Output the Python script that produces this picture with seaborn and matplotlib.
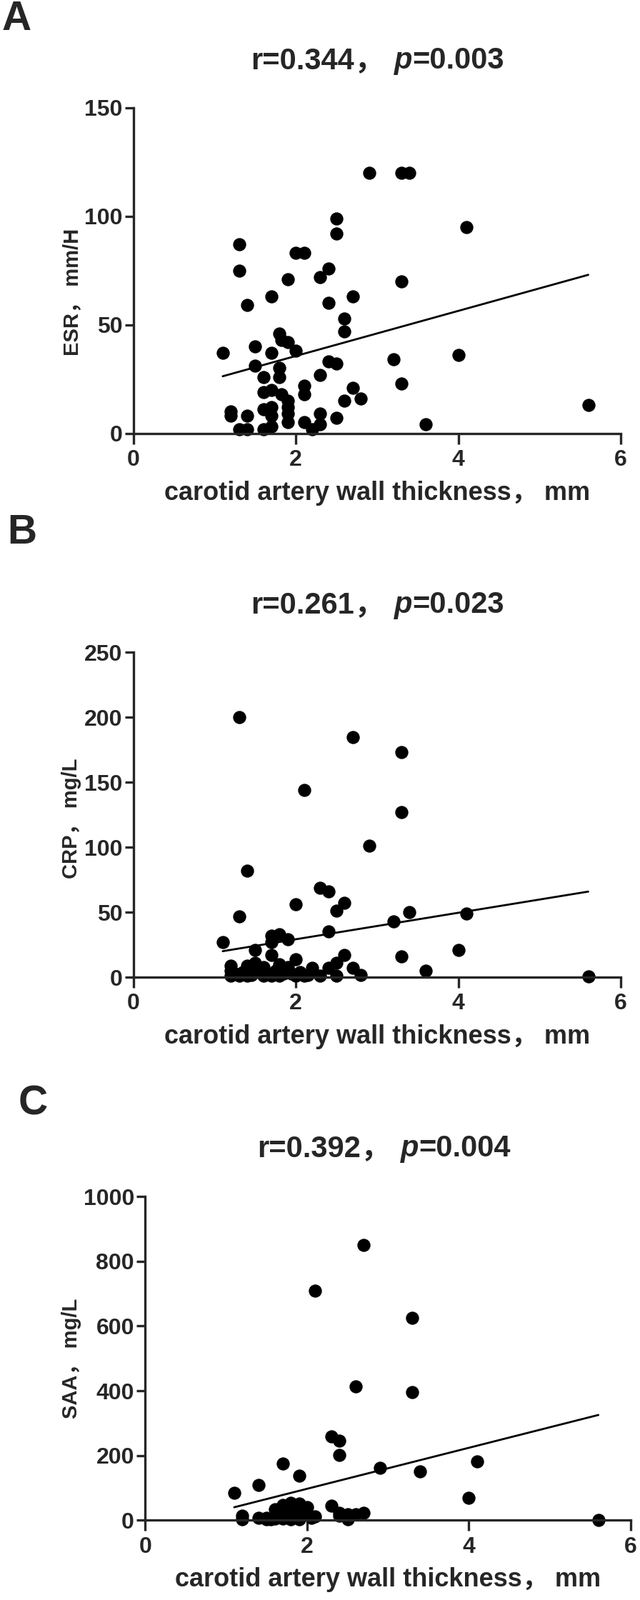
import numpy as np
import pandas as pd
import seaborn as sns
import matplotlib.pyplot as plt
from matplotlib.offsetbox import TextArea, HPacker, AnnotationBbox

# ---- data ----
# A: ESR vs carotid artery wall thickness
esr_x = [2.9, 2.5, 2.5, 1.3, 2.0, 2.1, 1.3, 2.4, 2.3, 1.9,
         1.7, 2.7, 1.4, 2.4, 2.6, 2.6, 1.8, 1.82, 1.9, 2.0,
         1.1, 1.5, 1.7, 2.4, 2.5, 1.5, 1.8, 1.6, 1.8, 2.3,
         2.1, 2.1, 1.6, 1.7, 1.82, 1.9, 2.7, 2.8, 2.6, 1.2,
         1.2, 1.4, 1.6, 1.7, 1.7, 1.9, 1.9, 1.9, 2.3, 2.3,
         2.5, 2.1, 2.2, 1.3, 1.4, 1.6, 1.7, 3.3, 3.4, 4.1,
         3.3, 3.2, 4.0, 3.3, 3.6, 5.6]
esr_y = [120, 99, 92, 87, 83, 83, 75, 76, 72, 71,
         63, 63, 59, 60, 53, 47, 46, 43, 42, 38,
         37, 40, 37, 33, 32, 31, 30, 26, 26, 27,
         22, 18, 19, 20, 18, 15, 21, 16, 15, 10,
         8, 8, 11, 12, 8, 12, 9, 5, 9, 4,
         7, 5, 2, 2, 2, 2, 3, 120, 120, 95,
         70, 34, 36, 23, 4, 13]

# B: CRP
crp_x = [1.3, 2.7, 2.1, 2.9, 1.4, 2.3, 2.4, 2.0, 2.6, 2.5,
         1.3, 2.4, 1.1, 1.8, 1.9, 1.7, 1.7, 1.5, 1.7, 2.6,
         2.0, 1.2, 1.2, 1.4, 1.5, 1.6, 1.8, 1.9, 2.2, 2.4,
         2.5, 2.7, 2.8, 1.2, 1.3, 1.4, 1.6, 1.7, 1.8, 2.1,
         2.3, 2.5, 3.3, 3.3, 3.4, 3.2, 4.1, 3.3, 4.0, 3.6,
         5.6, 1.95, 2.0, 1.25, 1.35, 1.45, 1.55, 1.65, 1.75, 1.85,
         2.05, 2.15, 1.5]
crp_y = [200, 185, 144, 101, 82, 69, 66, 56, 57, 51,
         47, 35, 27, 33, 29, 32, 27, 21, 17, 17,
         14, 9, 5, 9, 11, 8, 10, 8, 7, 7,
         11, 7, 2, 1, 1, 1, 1, 1, 1, 1,
         1, 1, 173, 127, 50, 43, 49, 16, 21, 5,
         0.5, 3, 1, 3, 4, 2, 4, 3, 5, 3,
         4, 2, 6]

# C: SAA
saa_x = [1.1, 1.4, 1.7, 1.9, 2.3, 2.4, 2.4, 2.9, 3.4, 4.1,
         4.0, 5.6, 2.3, 1.2, 1.2, 1.4, 1.6, 1.7, 1.8, 1.9,
         2.0, 1.7, 1.8, 1.9, 1.6, 1.5, 2.1, 2.4, 2.5, 2.6,
         2.7, 2.4, 2.5, 2.7, 2.1, 2.6, 3.3, 3.3, 1.75, 1.85,
         1.8, 1.7, 1.5, 1.6, 1.65, 1.75, 1.85, 1.95, 2.05, 1.55]
saa_y = [85, 109, 175, 138, 260, 245, 201, 161, 151, 182,
         69, 1, 44, 15, 4, 7, 33, 47, 55, 51,
         40, 18, 11, 4, 11, 7, 11, 22, 4, 18,
         22, 15, 18, 850, 710, 413, 626, 396, 30, 25,
         3, 5, 3, 5, 20, 40, 45, 20, 8, 4]

r_text = ["r=0.344，", "r=0.261，", "r=0.392，"]
p_text = ["=0.003", "=0.023", "=0.004"]
ylabels = ["ESR， mm/H", "CRP， mg/L", "SAA， mg/L"]
xlabel = "carotid artery wall thickness， mm"
letters = ["A", "B", "C"]
yticks = [[0, 50, 100, 150], [0, 50, 100, 150, 200, 250],
          [0, 200, 400, 600, 800, 1000]]
xticks = [0, 2, 4, 6]

sns.set_style("ticks")
plt.rcParams["font.family"] = ["Liberation Sans", "Noto Sans CJK SC", "DejaVu Sans"]
plt.rcParams["font.weight"] = "bold"

fig = plt.figure(figsize=(8.96, 22.4), dpi=100)

# axes rectangles (fig fraction), left/bottom/width/height
rects = [[0.2084, 0.7292, 0.7615, 0.2035],
         [0.2084, 0.3892, 0.7615, 0.2031],
         [0.2269, 0.0498, 0.7586, 0.2024]]
title_pos = [(0.590, 0.9620), (0.590, 0.6218), (0.600, 0.2821)]
letter_pos = [(0.003, 1.0), (0.011, 0.679), (0.029, 0.322)]
# y-label right edge (px) and vertical centre (axes fraction)
ylab_x = [116, 114, 114]
ylab_y = [0.434, 0.49, 0.5]

data = [(esr_x, esr_y), (crp_x, crp_y), (saa_x, saa_y)]

for i, (xs, ys) in enumerate(data):
    ax = fig.add_axes(rects[i])
    df = pd.DataFrame({"x": xs, "y": ys})
    sns.regplot(data=df, x="x", y="y", ax=ax, ci=None, color="black",
                scatter_kws={"s": 175, "linewidths": 0, "clip_on": False, "alpha": 1},
                line_kws={"lw": 2.0, "color": "black"})
    ax.set_xlim(0, 6)
    ax.set_ylim(0, yticks[i][-1])
    ax.set_xticks(xticks)
    ax.set_yticks(yticks[i])
    sns.despine(ax=ax)
    for s in ["left", "bottom"]:
        ax.spines[s].set_linewidth(2.4)
    ax.tick_params(axis="x", direction="out", length=11, width=2.4, labelsize=23, pad=5)
    ax.tick_params(axis="y", direction="out", length=9, width=2.4, labelsize=23, pad=2)
    ax.set_xlabel(xlabel, fontsize=26, fontweight="bold")
    ax.set_ylabel(ylabels[i], fontsize=21, fontweight="bold")
    w_px = rects[i][2] * 896
    h_px = rects[i][3] * 2240
    ax.xaxis.set_label_coords(0.5, -66 / h_px)
    ax.yaxis.set_label_coords((ylab_x[i] - rects[i][0] * 896) / w_px, ylab_y[i])

    # title: r=..., italic p
    tp = dict(fontsize=30, fontweight="bold")
    left = TextArea(r_text[i], textprops=tp)
    right = HPacker(children=[TextArea("p", textprops=dict(tp, style="italic")),
                              TextArea(p_text[i], textprops=tp)],
                    align="baseline", pad=0, sep=0)
    box = HPacker(children=[left, right], align="baseline", pad=0, sep=10)
    ab = AnnotationBbox(box, title_pos[i], xycoords="figure fraction",
                        frameon=False, box_alignment=(0.5, 0.5))
    fig.add_artist(ab)

    fig.text(letter_pos[i][0], letter_pos[i][1], letters[i], fontsize=41,
             fontweight="bold", ha="left", va="top")

fig.savefig("out.png", dpi=100, facecolor="white")
